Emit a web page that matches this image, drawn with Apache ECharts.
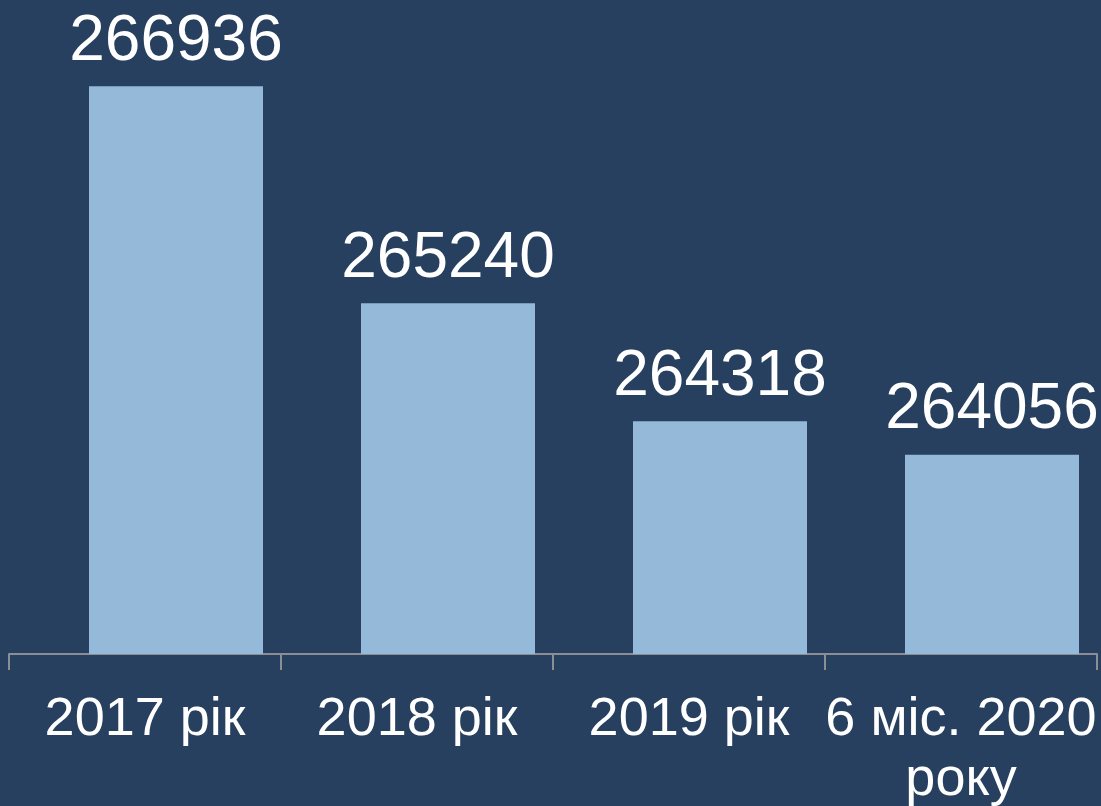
<!DOCTYPE html>
<html>
<head>
<meta charset="utf-8">
<script src="https://cdn.jsdelivr.net/npm/echarts@6/dist/echarts.min.js"></script>
<style>
html, body { margin: 0; padding: 0; background: #274060; }
#chart { width: 1101px; height: 806px; }
</style>
</head>
<body>
<div id="chart"></div>
<script>
var categories = ['2017 рік', '2018 рік', '2019 рік', '6 міс. 2020\nроку'];
var values = [266936, 265240, 264318, 264056];
var blank = [null, null, null, null];

var myChart = echarts.init(document.getElementById('chart'));
var option = {
    backgroundColor: '#274060',
    textStyle: { fontFamily: 'Liberation Sans, Arial, sans-serif' },
    grid: { left: 9, right: 4, top: 78, bottom: 152, outerBoundsMode: 'none', containLabel: false },
    xAxis: {
        type: 'category',
        data: categories,
        axisLine: { lineStyle: { color: '#8a8f96', width: 2 } },
        axisTick: { show: true, length: 16, lineStyle: { color: '#8a8f96', width: 2 } },
        axisLabel: {
            color: '#ffffff',
            fontSize: 54,
            lineHeight: 60,
            margin: 36,
            interval: 0
        }
    },
    yAxis: {
        type: 'value',
        min: 262500,
        max: 267000,
        show: false,
        splitLine: { show: false }
    },
    series: [{
        // empty spacer so the bars sit right of the category centre, like the original
        type: 'bar',
        data: blank,
        barWidth: 62,
        barGap: '0%',
        silent: true
    }, {
        type: 'bar',
        data: values,
        barWidth: 174,
        barGap: '0%',
        itemStyle: { color: '#95b9d8' },
        label: {
            show: true,
            position: 'top',
            distance: 12,
            color: '#ffffff',
            fontSize: 64
        }
    }]
};
myChart.setOption(option);
</script>
</body>
</html>
